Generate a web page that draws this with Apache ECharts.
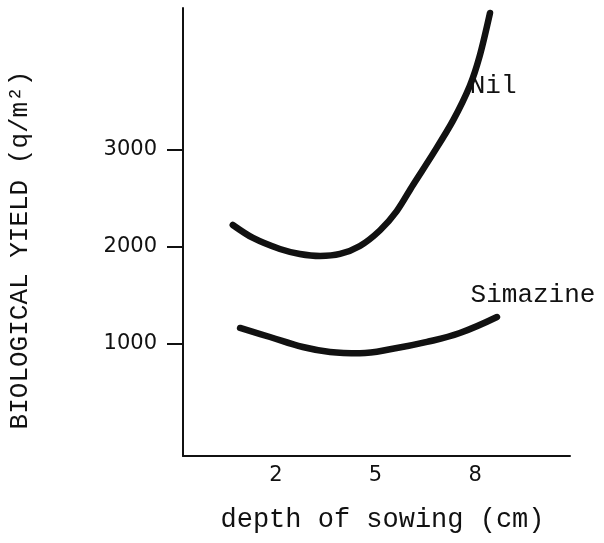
<!DOCTYPE html>
<html>
<head>
<meta charset="utf-8">
<script src="https://cdn.jsdelivr.net/npm/echarts@6/dist/echarts.min.js"></script>
<style>
html,body{margin:0;padding:0;background:#fff;}
#chart{width:604px;height:543px;}
</style>
</head>
<body>
<div id="chart"></div>
<script>
// depth of sowing (cm) vs biological yield (g/m2)
const nilX = [0.70, 1.31, 2.12, 2.72, 3.33, 3.93, 4.53, 5.13, 5.64, 6.13, 6.73, 7.33, 7.84, 8.14, 8.45];
const nilY = [2227, 2093, 1979, 1928, 1907, 1928, 2010, 2170, 2370, 2640, 2960, 3300, 3660, 3970, 4412];
const simX = [0.92, 1.82, 2.81, 3.63, 4.53, 5.52, 6.55, 7.54, 8.66];
const simY = [1165, 1072, 969, 918, 905, 950, 1021, 1113, 1278];
const xTicks = [2, 5, 8];
const yTicks = [1000, 2000, 3000];
const nilLabelIndex = 12;
const simLabelIndex = simX.length - 1;

const mono = '"Liberation Mono", "DejaVu Sans Mono", monospace';
const sans = '"DejaVu Sans", sans-serif';

function build(xs, ys, labelIdx, labelName, labelOpt) {
  return xs.map((x, i) => {
    const item = { value: [x, ys[i]] };
    if (i === labelIdx) {
      item.label = Object.assign({
        show: true,
        formatter: labelName,
        color: '#111',
        fontFamily: mono,
        fontSize: 26
      }, labelOpt);
    }
    return item;
  });
}

const chart = echarts.init(document.getElementById('chart'), null, { renderer: 'canvas' });
chart.setOption({
  animation: false,
  backgroundColor: '#fff',
  grid: { left: 183, right: 34, top: 8, bottom: 87, containLabel: false },
  xAxis: {
    type: 'value',
    min: -0.8,
    max: 10.86,
    name: 'depth of sowing (cm)',
    nameLocation: 'middle',
    nameGap: 50,
    nameTextStyle: { fontFamily: mono, fontSize: 27, color: '#111', padding: [0, 0, 0, 12] },
    axisLine: { show: true, onZero: false, lineStyle: { color: '#111', width: 2 } },
    axisTick: { show: false },
    splitLine: { show: false },
    axisLabel: {
      customValues: xTicks,
      margin: 9,
      fontFamily: sans,
      fontSize: 21,
      color: '#111',
      formatter: v => String(v)
    }
  },
  yAxis: {
    type: 'value',
    min: -155,
    max: 4464,
    axisLine: { show: true, onZero: false, lineStyle: { color: '#111', width: 2 } },
    axisTick: { show: true, customValues: yTicks, length: 16, lineStyle: { color: '#111', width: 2 } },
    splitLine: { show: false },
    axisLabel: {
      customValues: yTicks,
      margin: 26,
      fontFamily: sans,
      fontSize: 21,
      color: '#111',
      formatter: v => String(v)
    }
  },
  graphic: [{
    type: 'text',
    x: 20,
    y: 250,
    rotation: Math.PI / 2,
    style: {
      text: 'BIOLOGICAL YIELD (q/m²)',
      font: '26px ' + mono,
      fill: '#111',
      textAlign: 'center',
      textVerticalAlign: 'middle'
    }
  }],
  series: [
    {
      name: 'Nil',
      type: 'line',
      smooth: 0.3,
      symbol: 'circle',
      symbolSize: 0,
      showSymbol: true,
      lineStyle: { color: '#111', width: 6.5, cap: 'round' },
      itemStyle: { color: '#111' },
      data: build(nilX, nilY, nilLabelIndex, 'Nil', { position: 'right', distance: 0 })
    },
    {
      name: 'Simazine',
      type: 'line',
      smooth: 0.4,
      symbol: 'circle',
      symbolSize: 0,
      showSymbol: true,
      lineStyle: { color: '#111', width: 6.5, cap: 'round' },
      itemStyle: { color: '#111' },
      data: build(simX, simY, simLabelIndex, 'Simazine', { position: 'top', distance: 0, offset: [36, -9] })
    }
  ]
});
</script>
</body>
</html>
